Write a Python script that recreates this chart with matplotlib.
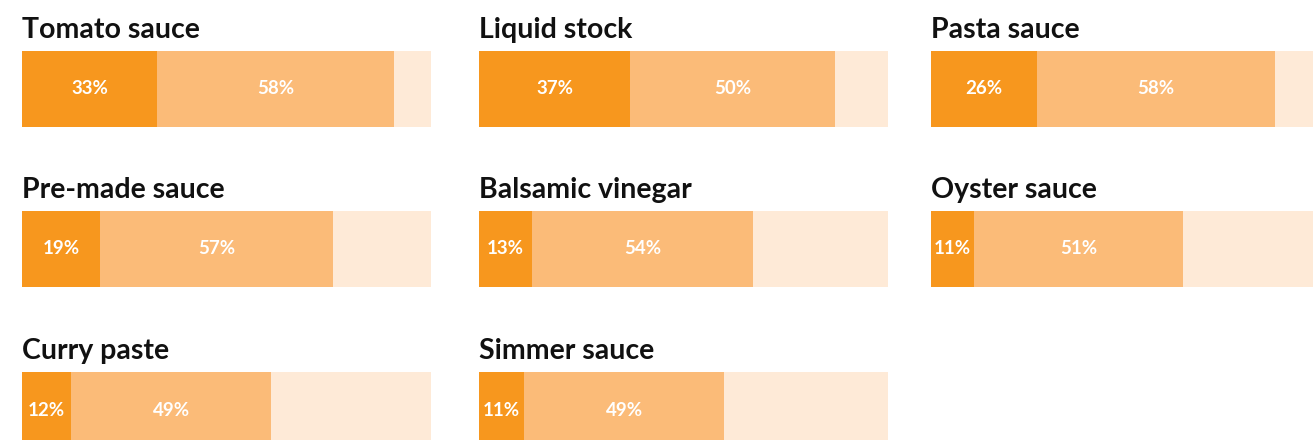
import matplotlib.pyplot as plt

# data
categories = ['Tomato sauce', 'Liquid stock', 'Pasta sauce',
              'Pre-made sauce', 'Balsamic vinegar', 'Oyster sauce',
              'Curry paste', 'Simmer sauce']
first_share = [33, 37, 26, 19, 13, 10.6, 12, 11]
second_share = [58, 50, 58, 57, 54, 51, 49, 49]

c_dark = '#F7971E'
c_mid = '#FBBB78'
c_light = '#FEEAD7'

W, H = 1313, 440
fig = plt.figure(figsize=(W / 100, H / 100), dpi=100)
fig.patch.set_facecolor('white')

col_x = [22, 479, 931]
row_y = [51, 211, 372]
bar_w, bar_h = 409, 76

for i, name in enumerate(categories):
    r, c = divmod(i, 3)
    x0, y0 = col_x[c], row_y[r]
    ax = fig.add_axes([x0 / W, 1 - (y0 + bar_h) / H, bar_w / W, bar_h / H])
    a, b = first_share[i], second_share[i]
    ax.barh(0, a, height=1, color=c_dark, left=0)
    ax.barh(0, b, height=1, color=c_mid, left=a)
    ax.barh(0, 100 - a - b, height=1, color=c_light, left=a + b)
    for left, v in [(0, a), (a, b)]:
        ax.text(left + v / 2, 0, f'{int(v + 0.5)}%', ha='center', va='center',
                color='white', fontsize=13.5, fontweight='bold', family='Lato')
    ax.set_xlim(0, 100)
    ax.set_ylim(-0.5, 0.5)
    ax.axis('off')
    fig.text(x0 / W, 1 - (y0 - 13) / H, name, ha='left', va='baseline',
             fontsize=20.5, fontweight='bold', family='Lato', color='#111111')

plt.savefig('out.png', dpi=100)
